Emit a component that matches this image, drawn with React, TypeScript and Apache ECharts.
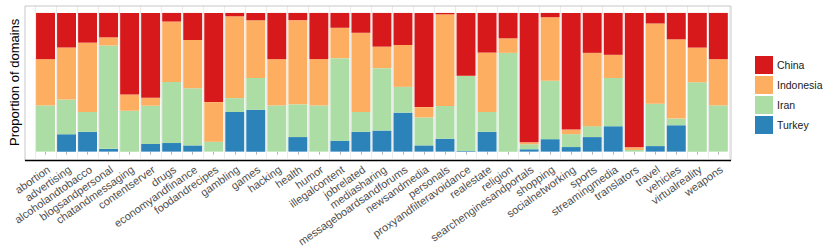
import React, { useEffect, useRef } from "react";
import * as echarts from "echarts";

const categories = [
  "abortion", "advertising", "alcoholandtobacco", "blogsandpersonal", "chatandmessaging",
  "contentserver", "drugs", "economyandfinance", "foodandrecipes", "gambling", "games",
  "hacking", "health", "humor", "illegalcontent", "jobrelated", "mediasharing",
  "messageboardsandforums", "newsandmedia", "personals", "proxyandfilteravoidance",
  "realestate", "religion", "searchenginesandportals", "shopping", "socialnetworking",
  "sports", "streamingmedia", "translators", "travel", "vehicles", "virtualreality", "weapons",
];

const china = [
  0.333, 0.25, 0.214, 0.176, 0.588, 0.612, 0.062, 0.195, 0.643, 0.024, 0.052,
  0.333, 0.052, 0.333, 0.107, 0.143, 0.243, 0.231, 0.679, 0.01, 0.452,
  0.286, 0.183, 0.933, 0.031, 0.84, 0.288, 0.302, 0.969, 0.076, 0.19, 0.25, 0.333,
];
const indonesia = [
  0.333, 0.375, 0.5, 0.059, 0.118, 0.057, 0.436, 0.348, 0.286, 0.59, 0.417,
  0.333, 0.607, 0.334, 0.219, 0.571, 0.155, 0.302, 0.074, 0.662, 0.003,
  0.429, 0.105, 0.014, 0.457, 0.033, 0.529, 0.167, 0.019, 0.579, 0.571, 0.25, 0.333,
];
const iran = [
  0.333, 0.25, 0.143, 0.745, 0.294, 0.276, 0.44, 0.412, 0.071, 0.1, 0.229,
  0.333, 0.236, 0.333, 0.595, 0.143, 0.45, 0.186, 0.202, 0.236, 0.54,
  0.143, 0.712, 0.036, 0.421, 0.093, 0.079, 0.348, 0.012, 0.305, 0.048, 0.5, 0.333,
];
const turkey = [
  0, 0.125, 0.143, 0.02, 0, 0.055, 0.062, 0.045, 0, 0.286, 0.302,
  0, 0.105, 0, 0.079, 0.143, 0.152, 0.281, 0.045, 0.093, 0.005,
  0.143, 0, 0.017, 0.09, 0.033, 0.105, 0.183, 0, 0.04, 0.19, 0, 0,
];

const seriesNames = ["China", "Indonesia", "Iran", "Turkey"];
const seriesColors = ["#d7191c", "#fdae61", "#abdda4", "#2b83ba"];

export default function App() {
  const ref = useRef<HTMLDivElement>(null);
  useEffect(() => {
    if (!ref.current) return;
    const chart = echarts.init(ref.current, null, { renderer: "svg" });
    const raw = [china, indonesia, iran, turkey];
    const totals = categories.map((_, i) => raw.reduce((s, a) => s + a[i], 0));
    const norm = raw.map((a) => a.map((v, i) => v / totals[i]));
    // stacking order bottom to top: Turkey, Iran, Indonesia, China
    const order = [3, 2, 1, 0];
    const panelL = 25, panelR = 731, panelT = 6, panelB = 160.5;
    const units = categories.length - 1 + 1.2;
    const unit = (panelR - panelL) / units;
    const gridL = panelL + 0.1 * unit;
    const gridR = 830 - (panelR - 0.1 * unit);
    chart.setOption({
      animation: false,
      textStyle: { fontFamily: "Liberation Sans, Arial, sans-serif" },
      grid: { left: gridL, right: gridR, top: panelT, bottom: 249 - panelB, containLabel: false },
      xAxis: {
        type: "category",
        data: categories,
        axisLine: { show: false },
        axisTick: { show: true, alignWithLabel: true, length: 3, lineStyle: { color: "#b3b3b3" } },
        axisLabel: {
          interval: 0,
          rotate: 35,
          fontSize: 11,
          color: "#4d4d4d",
          margin: 5,
          align: "right",
          verticalAlign: "top",
        },
        splitLine: { show: true, interval: 0, lineStyle: { color: "#ebebeb", width: 1 } },
      },
      yAxis: {
        type: "value",
        min: -0.05,
        max: 1.05,
        axisLabel: { show: false },
        axisTick: { show: false },
        axisLine: { show: false },
        splitLine: { show: false },
        name: "Proportion of domains",
        nameLocation: "middle",
        nameGap: 14,
        nameTextStyle: { fontSize: 13, color: "#000" },
      },
      legend: {
        orient: "vertical",
        left: 750,
        top: 51,
        itemWidth: 18,
        itemHeight: 18,
        itemGap: 2,
        icon: "rect",
        data: seriesNames,
        textStyle: { fontSize: 10.5, color: "#1a1a1a", padding: [0, 0, 0, -1] },
      },
      series: order.map((k) => ({
        name: seriesNames[k],
        type: "bar",
        stack: "total",
        barWidth: "90%",
        itemStyle: { color: seriesColors[k] },
        data: norm[k],
      })),
      graphic: [
        {
          type: "rect",
          silent: true,
          shape: { x: panelL, y: panelT, width: panelR - panelL, height: panelB - panelT },
          style: { fill: "none", stroke: "#c8c8c8", lineWidth: 1 },
          z: 100,
        },
        {
          type: "line",
          silent: true,
          shape: { x1: panelL, y1: panelB, x2: panelR, y2: panelB },
          style: { stroke: "#000", lineWidth: 1.6 },
          z: 101,
        },
      ],
    });
    return () => chart.dispose();
  }, []);
  return (
    <div
      ref={ref}
      style={{ position: "fixed", left: 0, top: 0, width: 830, height: 249, background: "#fff" }}
    />
  );
}
